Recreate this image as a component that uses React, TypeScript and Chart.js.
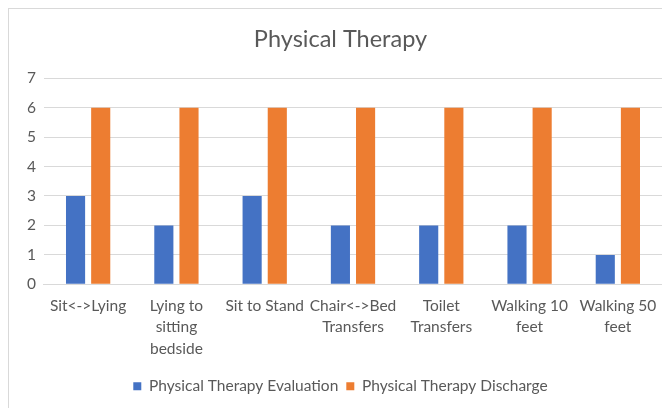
import React, { useEffect, useRef } from "react";
import { Chart, registerables } from "chart.js";

Chart.register(...registerables);

const categories: (string | string[])[] = [
  "Sit<->Lying",
  ["Lying to", "sitting", "bedside"],
  "Sit to Stand",
  ["Chair<->Bed", "Transfers"],
  ["Toilet", "Transfers"],
  ["Walking 10", "feet"],
  ["Walking 50", "feet"],
];
const evaluationValues = [3, 2, 3, 2, 2, 2, 1];
const dischargeValues = [6, 6, 6, 6, 6, 6, 6];
const seriesNames = ["Physical Therapy Evaluation", "Physical Therapy Discharge"];
const titleText = "Physical Therapy";

export default function App() {
  const ref = useRef<HTMLCanvasElement | null>(null);
  useEffect(() => {
    document.body.style.overflow = "hidden";
    if (!ref.current) return;
    const font = "Lato, 'Open Sans', sans-serif";
    const chart = new Chart(ref.current, {
      type: "bar",
      data: {
        labels: categories,
        datasets: [
          {
            label: seriesNames[0],
            data: evaluationValues,
            backgroundColor: "#4472C4",
            barPercentage: 0.76,
            categoryPercentage: 0.57,
          },
          {
            label: seriesNames[1],
            data: dischargeValues,
            backgroundColor: "#ED7D31",
            barPercentage: 0.76,
            categoryPercentage: 0.57,
          },
        ],
      },
      options: {
        animation: false,
        responsive: false,
        layout: { padding: { left: 10, right: 8, top: 8, bottom: 4 } },
        plugins: {
          title: {
            display: true,
            text: titleText,
            color: "#595959",
            font: { family: font, size: 23.5, weight: "normal" },
            padding: { top: 8, bottom: 25 },
          },
          legend: {
            position: "bottom",
            labels: {
              color: "#595959",
              font: { family: font, size: 15.5 },
              boxWidth: 8,
              boxHeight: 8,
              padding: 8,
            },
          },
          tooltip: { enabled: false },
        },
        scales: {
          x: {
            grid: { display: false, drawTicks: false },
            border: { display: true, color: "#d9d9d9" },
            ticks: {
              color: "#595959",
              font: { family: font, size: 15.5, lineHeight: 1.38 },
              maxRotation: 0,
              autoSkip: false,
              padding: 11,
            },
          },
          y: {
            min: 0,
            max: 7,
            grid: { color: "#d9d9d9", drawTicks: false },
            border: { display: false },
            ticks: {
              stepSize: 1,
              color: "#595959",
              font: { family: font, size: 15.5 },
              padding: 8,
            },
          },
        },
      },
    });
    return () => chart.destroy();
  }, []);
  return (
    <div
      style={{
        width: 662,
        height: 400,
        borderLeft: "1px solid #d9d9d9",
        borderTop: "1px solid #d9d9d9",
        background: "#fff",
      }}
    >
      <canvas ref={ref} width={661} height={399} />
    </div>
  );
}
